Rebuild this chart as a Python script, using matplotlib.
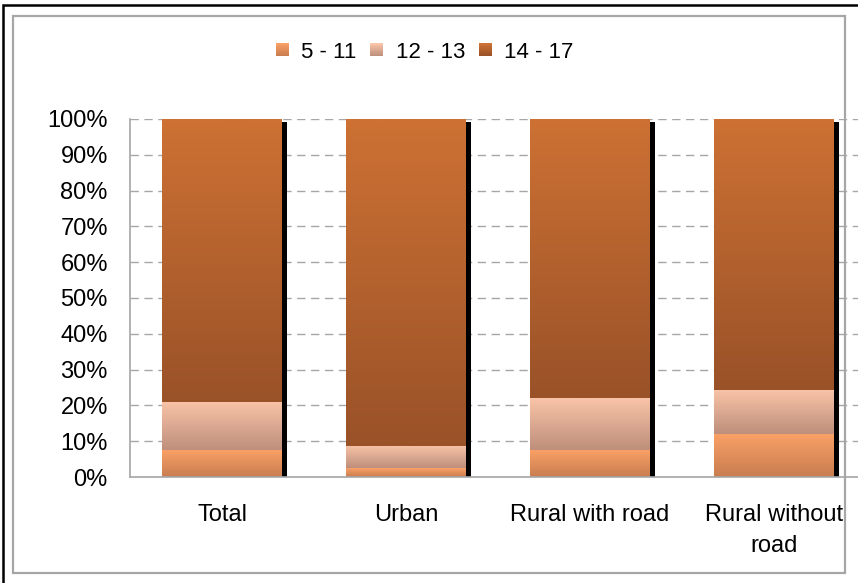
import numpy as np
import matplotlib
matplotlib.use("Agg")
import matplotlib.pyplot as plt
from matplotlib.patches import Rectangle
from matplotlib.legend_handler import HandlerBase
from matplotlib.colors import to_rgb
import matplotlib.transforms as mtransforms

plt.rcParams['font.family'] = ['Liberation Sans', 'DejaVu Sans']

categories = ["Total", "Urban", "Rural with road", "Rural without\nroad"]
series_names = ["5 - 11", "12 - 13", "14 - 17"]
v_5_11 = [7.5, 2.5, 7.5, 12.0]
v_12_13 = [13.5, 6.2, 14.5, 12.3]
v_14_17 = [79.0, 91.3, 78.0, 75.7]
yticks = [0, 10, 20, 30, 40, 50, 60, 70, 80, 90, 100]

grad_colors = [("#F9A066", "#C97D50"),
               ("#F9C4A7", "#BE8F7C"),
               ("#CD7134", "#9A5228")]

W, H = 858, 583
fig = plt.figure(figsize=(W / 100, H / 100), dpi=100)

# frames
fig.patches.append(Rectangle((3 / W, -0.1), 1.2, (H - 5) / H + 0.1, transform=fig.transFigure,
                             fill=False, edgecolor="black", linewidth=1.8))
fig.patches.append(Rectangle((13 / W, (H - 573) / H), (845 - 13) / W, (573 - 16) / H,
                             transform=fig.transFigure, fill=False, edgecolor="#A6A6A6", linewidth=1.6))

left, right = 130, 130 + 4 * 184
top, bottom = 119, 477
ax = fig.add_axes([left / W, (H - bottom) / H, (right - left) / W, (bottom - top) / H])
ax.set_xlim(-0.5, 3.5)
ax.set_ylim(0, 100)

x = np.arange(len(categories))
bw = 0.647

for yv in yticks[1:]:
    ax.axhline(yv, color="#A6A6A6", linewidth=1.0, linestyle=(0, (6, 4)), zorder=0.5)

# shadow
shadow_tr = mtransforms.offset_copy(ax.transData, fig=fig, x=5, y=-3, units='dots')
totals = np.array(v_5_11) + np.array(v_12_13) + np.array(v_14_17)
ax.bar(x, totals, width=bw, color="black", transform=shadow_tr, zorder=1)

def gradient_img(c_top, c_bot, n=64):
    t = np.linspace(0, 1, n)[:, None]
    a = np.array(to_rgb(c_top)); b = np.array(to_rgb(c_bot))
    img = a[None, :] * (1 - t[..., None]) + b[None, :] * t[..., None]
    return img  # row 0 = top

bottoms = np.zeros(len(categories))
for vals, (ct, cb) in zip([v_5_11, v_12_13, v_14_17], grad_colors):
    bars = ax.bar(x, vals, width=bw, bottom=bottoms, color=ct, zorder=2, linewidth=0)
    for b in bars:
        bx, by = b.get_x(), b.get_y()
        bwid, bh = b.get_width(), b.get_height()
        im = ax.imshow(gradient_img(ct, cb), extent=[bx, bx + bwid, by, by + bh],
                       origin='upper', aspect='auto', zorder=2.5, interpolation='bilinear')
        im.set_clip_path(b)
    bottoms += np.array(vals)
ax.set_xlim(-0.5, 3.5)
ax.set_ylim(0, 100)

ax.set_yticks(yticks)
ax.set_yticklabels([f"{v}%" for v in yticks], fontsize=17)
ax.set_xticks(x)
ax.set_xticklabels(categories, fontsize=17, linespacing=1.55, va='top')
ax.tick_params(axis='y', length=0, pad=16)
ax.tick_params(axis='x', length=0, pad=19.5)
for s in ["top", "right"]:
    ax.spines[s].set_visible(False)
for s in ["left", "bottom"]:
    ax.spines[s].set_color("#A6A6A6")
    ax.spines[s].set_linewidth(1.2)
ax.spines["left"].set_zorder(3)

class GradHandler(HandlerBase):
    def __init__(self, ct, cb):
        super().__init__()
        self.ct, self.cb = ct, cb
    def create_artists(self, legend, orig_handle, xdescent, ydescent, width, height, fontsize, trans):
        s = 13 * 72 / 100
        x0 = -xdescent + (width - s) / 2
        y0 = -ydescent + (height - s) / 2
        arts = []
        n = 8
        a = np.array(to_rgb(self.ct)); b = np.array(to_rgb(self.cb))
        for i in range(n):
            t = i / (n - 1)
            c = a * (1 - t) + b * t
            r = Rectangle((x0, y0 + s - (i + 1) * s / n), s, s / n + 0.05, facecolor=c,
                          edgecolor='none', transform=trans)
            arts.append(r)
        return arts

handles = [Rectangle((0, 0), 1, 1) for _ in series_names]
hmap = {h: GradHandler(ct, cb) for h, (ct, cb) in zip(handles, grad_colors)}
fig.legend(handles, series_names, loc='center', bbox_to_anchor=(424 / W, 1 - 52 / H),
           ncol=3, frameon=False, fontsize=16, handler_map=hmap,
           handlelength=0.7, handletextpad=0.5, columnspacing=0.55)

fig.savefig("out.png", dpi=100)
